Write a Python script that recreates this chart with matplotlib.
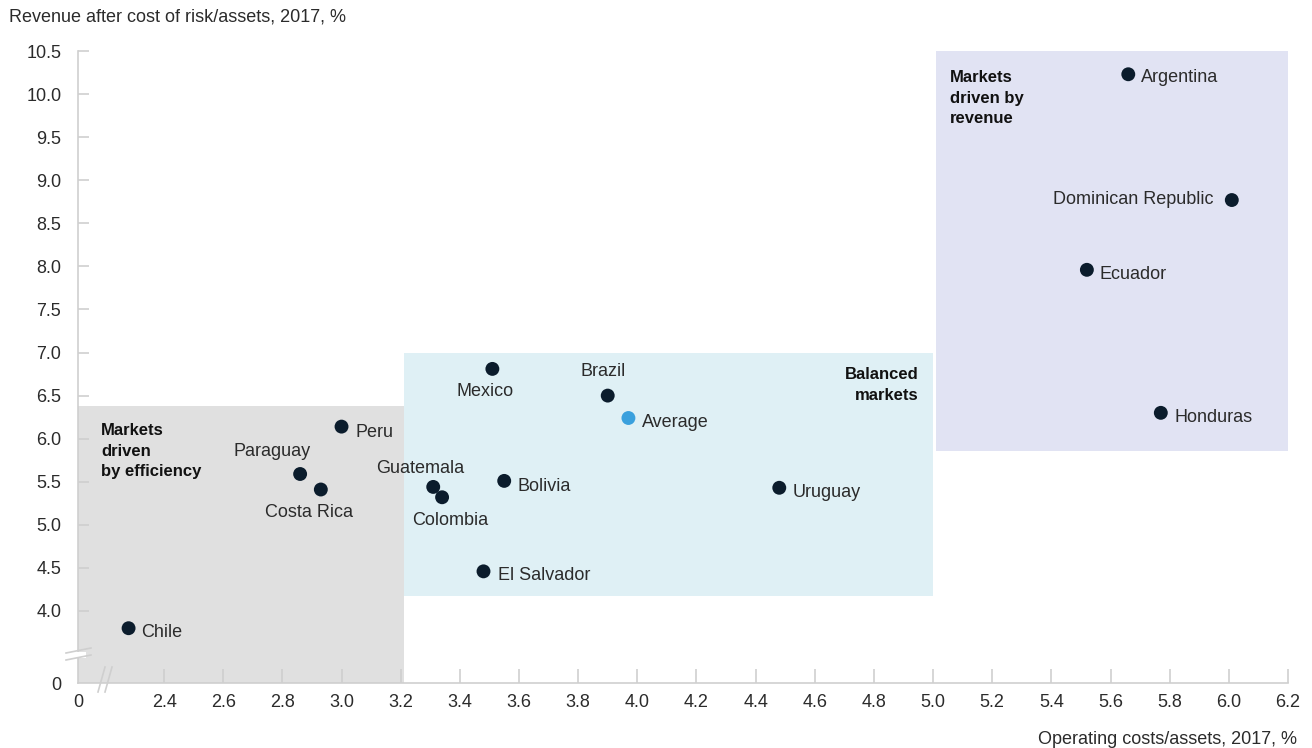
import matplotlib
matplotlib.use("Agg")
import matplotlib.pyplot as plt
from matplotlib.patches import Rectangle
from matplotlib.lines import Line2D

plt.rcParams['font.family'] = ['Liberation Sans', 'DejaVu Sans']

# ---- data ----
countries = ["Argentina", "Dominican Republic", "Ecuador", "Honduras", "Mexico",
             "Brazil", "Average", "Peru", "Paraguay", "Costa Rica", "Guatemala",
             "Colombia", "Bolivia", "Uruguay", "El Salvador", "Chile"]
op_costs = [5.66, 6.01, 5.52, 5.77, 3.51, 3.90, 3.97, 3.00, 2.86, 2.93, 3.31,
            3.34, 3.55, 4.48, 3.48, 2.28]
revenue = [10.23, 8.77, 7.96, 6.30, 6.81, 6.50, 6.24, 6.14, 5.59, 5.41, 5.44,
           5.32, 5.51, 5.43, 4.46, 3.80]

x_ticks = [2.4, 2.6, 2.8, 3.0, 3.2, 3.4, 3.6, 3.8, 4.0, 4.2, 4.4, 4.6, 4.8,
           5.0, 5.2, 5.4, 5.6, 5.8, 6.0, 6.2]
y_ticks = [4.0, 4.5, 5.0, 5.5, 6.0, 6.5, 7.0, 7.5, 8.0, 8.5, 9.0, 9.5, 10.0, 10.5]

# regions
region_names = ["Markets\ndriven\nby efficiency", "Balanced\nmarkets", "Markets\ndriven by\nrevenue"]
region_x = [(2.109, 3.21), (3.21, 5.0), (5.01, 6.2)]
region_y = [(3.164, 6.38), (4.17, 7.0), (5.86, 10.5)]

# broken-axis origin (value position that shows as "0")
X0 = 2.109
Y0 = 3.164

# ---- style ----
W, H = 1312, 748
dot_color = "#0b1c2c"
avg_color = "#3aa0dd"
text_color = "#2b2b2b"
axis_color = "#cfcfcf"
region_colors = ["#e0e0e0", "#dff0f5", "#e1e3f3"]

fig = plt.figure(figsize=(W / 100, H / 100), dpi=100)
left, right, top, bottom = 78, 1288, 51, 683
ax = fig.add_axes([left / W, (H - bottom) / H, (right - left) / W, (bottom - top) / H])
ax.set_xlim(X0, 6.2)
ax.set_ylim(Y0, 10.5)

for (x0, x1), (y0, y1), c in zip(region_x, region_y, region_colors):
    ax.add_patch(Rectangle((x0, y0), x1 - x0, y1 - y0, facecolor=c, edgecolor="none", zorder=0))

colors = [avg_color if c == "Average" else dot_color for c in countries]
ax.scatter(op_costs, revenue, s=100, c=colors, zorder=3, linewidths=0)

# label offsets in pixels (dx, dy, ha)
offsets = {
    "Argentina": (13, -3, "left"),
    "Dominican Republic": (-18, 1, "right"),
    "Ecuador": (13, -5, "left"),
    "Honduras": (14, -5, "left"),
    "Mexico": (-7, -23, "center"),
    "Brazil": (-5, 24, "center"),
    "Average": (14, -4, "left"),
    "Peru": (14, -6, "left"),
    "Paraguay": (-28, 22, "center"),
    "Costa Rica": (-12, -23, "center"),
    "Guatemala": (-13, 18, "center"),
    "Colombia": (8, -23, "center"),
    "Bolivia": (13, -6, "left"),
    "Uruguay": (13, -5, "left"),
    "El Salvador": (14, -4, "left"),
    "Chile": (13, -4, "left"),
}
for name, x, y in zip(countries, op_costs, revenue):
    dx, dy, ha = offsets[name]
    ax.annotate(name, (x, y), xytext=(dx, dy), textcoords="offset pixels",
                ha=ha, va="center", fontsize=13, color=text_color, zorder=4)

# region titles
title_kw = dict(fontsize=12, fontweight="bold", color="#111111", linespacing=1.45, va="center")
fig.text(101 / W, (H - 451) / H, region_names[0], ha="left", **title_kw)
fig.text(919 / W, (H - 385) / H, region_names[1], ha="right", multialignment="right", **title_kw)
fig.text(950 / W, (H - 98) / H, region_names[2], ha="left", **title_kw)

# axes styling
for s in ["top", "right"]:
    ax.spines[s].set_visible(False)
for s in ["left", "bottom"]:
    ax.spines[s].set_color(axis_color)
    ax.spines[s].set_linewidth(1.2)

ax.set_xticks([X0] + x_ticks)
ax.set_xticklabels(["0"] + [f"{v:.1f}" for v in x_ticks])
ax.set_yticks([Y0] + y_ticks)
ax.set_yticklabels(["0"] + [f"{v:.1f}" for v in y_ticks])
ax.tick_params(axis="both", direction="in", colors=axis_color, labelcolor=text_color,
               labelsize=13, width=1.2)
ax.tick_params(axis="x", length=10, pad=8)
ax.tick_params(axis="y", length=8, pad=12)
ax.xaxis.get_major_ticks()[0].tick1line.set_visible(False)
ax.yaxis.get_major_ticks()[0].tick1line.set_visible(False)

# axis titles
fig.text(9 / W, (H - 17) / H, "Revenue after cost of risk/assets, 2017, %", ha="left",
         va="center", fontsize=13, color=text_color)
fig.text(1297 / W, (H - 739) / H, "Operating costs/assets, 2017, %", ha="right",
         va="center", fontsize=13, color=text_color)

# break marks (figure pixels)
def seg(x0, y0, x1, y1):
    fig.add_artist(Line2D([x0 / W, x1 / W], [(H - y0) / H, (H - y1) / H],
                          color=axis_color, lw=1.2, transform=fig.transFigure))

fig.add_artist(Rectangle((70 / W, (H - 658) / H), 16 / W, 6 / H, transform=fig.transFigure,
                         facecolor="white", edgecolor="none", zorder=2))
seg(66, 653, 91, 648)
seg(66, 660, 91, 655)
seg(98, 692, 105, 667)
seg(105, 692, 112, 667)

fig.savefig("out.png", dpi=100)
